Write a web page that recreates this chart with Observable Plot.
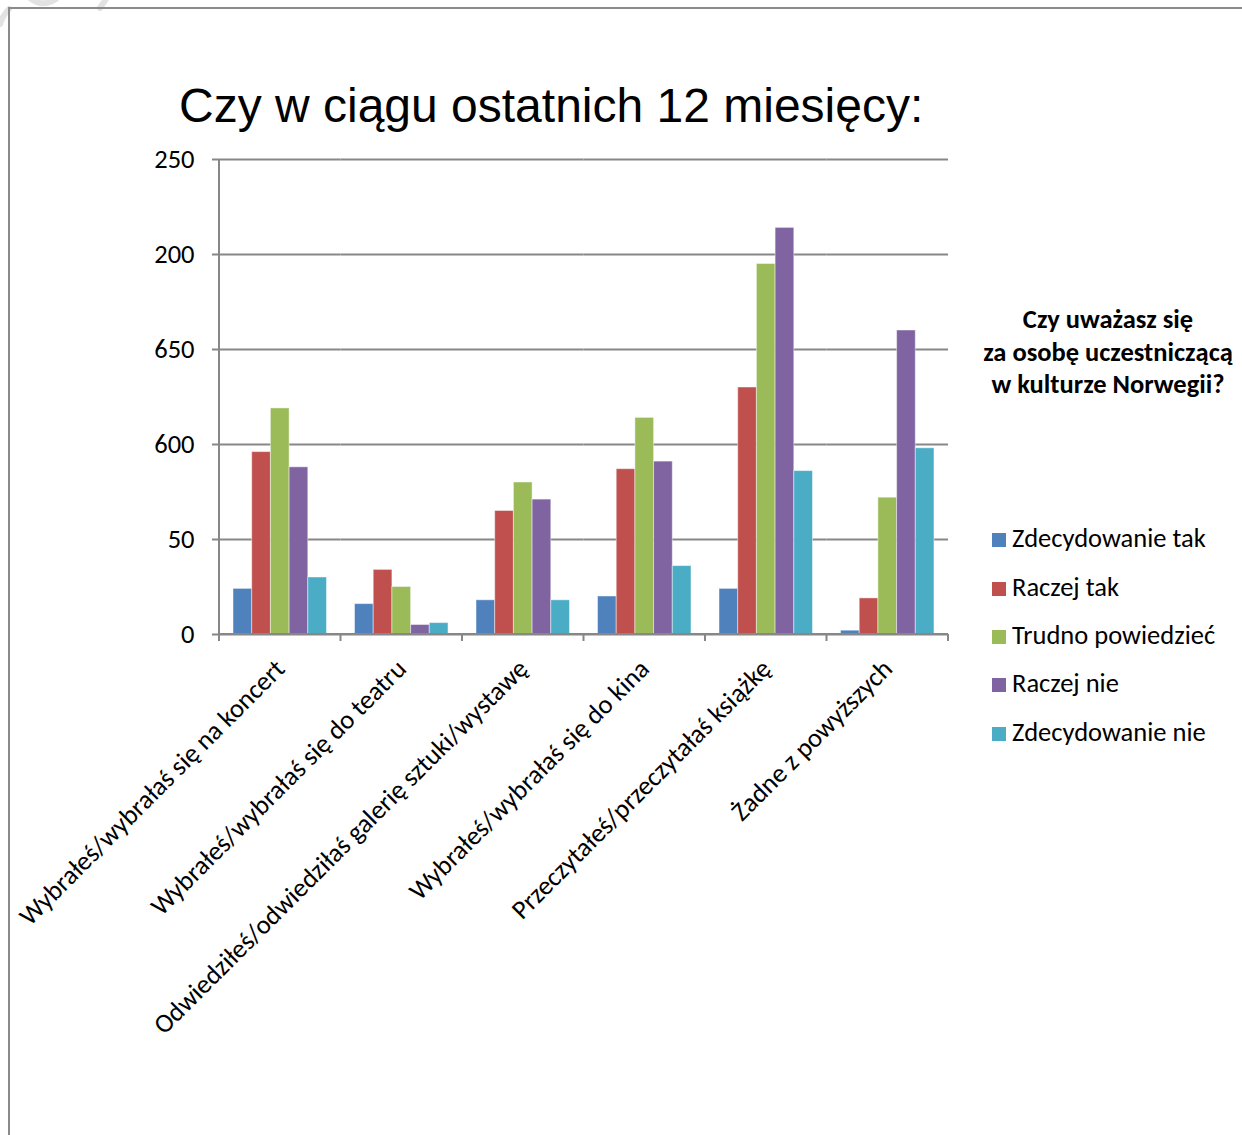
<!DOCTYPE html>
<html><head><meta charset="utf-8">
<script src="https://cdn.jsdelivr.net/npm/d3@7"></script>
<script src="https://cdn.jsdelivr.net/npm/@observablehq/plot@0.6"></script>
<style>
body{margin:0;background:#fff;}
#wrap{position:relative;width:1242px;height:1135px;overflow:hidden;font-family:Carlito, Lato, sans-serif;background:#fff;}
#border{position:absolute;left:8px;top:7px;width:1400px;height:1300px;border-top:2px solid #8a8a8a;border-left:2px solid #8a8a8a;box-sizing:border-box;}
#wm{position:absolute;left:0;top:0;}
#chart{position:absolute;left:0;top:0;}
#title{position:absolute;left:179px;top:82px;font-family:"Liberation Sans",Arial,sans-serif;font-size:48px;line-height:48px;white-space:nowrap;color:#000;}
#ltitle{position:absolute;left:958px;top:303px;width:300px;text-align:center;font-weight:bold;font-size:26.5px;line-height:32.5px;color:#000;white-space:nowrap;}
.li{position:absolute;left:992px;height:32px;line-height:32px;font-size:26.5px;white-space:nowrap;color:#000;}
.li span.sw{display:inline-block;width:14px;height:14px;vertical-align:middle;margin-right:6px;position:relative;top:-1px;}
</style></head>
<body><div id="wrap">
<svg id="wm" width="130" height="30"><g fill="none" stroke="#e2e2e2" stroke-width="6" stroke-linecap="round"><path d="M0,24 Q3,15 9,9"/><path d="M30,-2 Q42,8 56,-1"/><path d="M100,8 L108,-4"/></g></svg>
<div id="border"></div><div id="chart"></div><div id="title"></div><div id="ltitle"></div><div id="legend"></div></div>
<script>
const title = "Czy w ciągu ostatnich 12 miesięcy:";
const legendTitle = ["Czy uważasz się", "za osobę uczestniczącą", "w kulturze Norwegii?"];
const categories = [
  "Wybrałeś/wybrałaś się na koncert",
  "Wybrałeś/wybrałaś się do teatru",
  "Odwiedziłeś/odwiedziłaś galerię sztuki/wystawę",
  "Wybrałeś/wybrałaś się do kina",
  "Przeczytałeś/przeczytałaś książkę",
  "Żadne z powyższych"
];
const seriesNames = ["Zdecydowanie tak", "Raczej tak", "Trudno powiedzieć", "Raczej nie", "Zdecydowanie nie"];
const seriesColors = ["#4F81BD", "#C0504D", "#9BBB59", "#8064A2", "#4BACC6"];
const zdecydowanieTak = [24, 16, 18, 20, 24, 2];
const raczejTak = [96, 34, 65, 87, 130, 19];
const trudnoPowiedziec = [119, 25, 80, 114, 195, 72];
const raczejNie = [88, 5, 71, 91, 214, 160];
const zdecydowanieNie = [30, 6, 18, 36, 86, 98];
const yTicks = [0, 50, 100, 150, 200, 250];
const yTickLabels = ["0", "50", "600", "650", "200", "250"];

const seriesValues = [zdecydowanieTak, raczejTak, trudnoPowiedziec, raczejNie, zdecydowanieNie];
const data = [];
categories.forEach((c, i) => seriesNames.forEach((s, j) => data.push({category: c, series: s, value: seriesValues[j][i]})));

const W = 1242, H = 1135;
const chart = Plot.plot({
  width: W, height: H,
  marginLeft: 219, marginRight: 294, marginTop: 159, marginBottom: 501,
  style: {fontFamily: "Carlito, Lato, sans-serif", background: "transparent", color: "#000"},
  fx: {domain: categories, paddingInner: 0, paddingOuter: 0, round: false},
  x: {domain: seriesNames, paddingInner: 0, paddingOuter: 0.75, round: false, axis: null},
  y: {domain: [0, 250]},
  color: {domain: seriesNames, range: seriesColors},
  marks: [
    Plot.gridY(yTicks, {stroke: "#878787", strokeOpacity: 1, strokeWidth: 2}),
    Plot.barY(data, {fx: "category", x: "series", y: "value", fill: "series", stroke: "#fff", strokeOpacity: 0.45, strokeWidth: 1}),
    Plot.axisY(yTicks, {tickFormat: (d) => yTickLabels[yTicks.indexOf(d)], tickSize: 7, tickPadding: 18, stroke: "#878787", strokeWidth: 2, fontSize: 26.5, fill: "#000", label: null}),
    Plot.axisFx({anchor: "bottom", tickRotate: -45, tickSize: 0, tickPadding: 30, fontSize: 26.5, fill: "#000", label: null})
  ]
});
document.getElementById("chart").appendChild(chart);

// axis line and category boundary ticks, placed from the fx scale
const fx = chart.scale("fx"), ys = chart.scale("y");
const svg = d3.select(chart);
const y0 = ys.apply(0), yTop = ys.apply(250);
const bw = fx.bandwidth;
const edges = categories.map(c => fx.apply(c));
edges.push(fx.apply(categories[categories.length - 1]) + bw);
const g = svg.append("g").attr("stroke", "#878787").attr("stroke-width", 2);
g.append("line").attr("x1", edges[0]).attr("x2", edges[0]).attr("y1", yTop).attr("y2", y0 + 7);
g.append("line").attr("x1", edges[0]).attr("x2", edges[edges.length - 1]).attr("y1", y0).attr("y2", y0);
edges.forEach(x => g.append("line").attr("x1", x).attr("x2", x).attr("y1", y0).attr("y2", y0 + 7));

document.getElementById("title").textContent = title;
document.getElementById("ltitle").innerHTML = legendTitle.join("<br>");
const leg = document.getElementById("legend");
const rowCenters = [538, 587, 635, 683, 732];
seriesNames.forEach((s, i) => {
  const d = document.createElement("div");
  d.className = "li";
  d.style.top = (rowCenters[i] - 16) + "px";
  d.innerHTML = `<span class="sw" style="background:${seriesColors[i]}"></span>${s}`;
  leg.appendChild(d);
});
</script></body></html>
